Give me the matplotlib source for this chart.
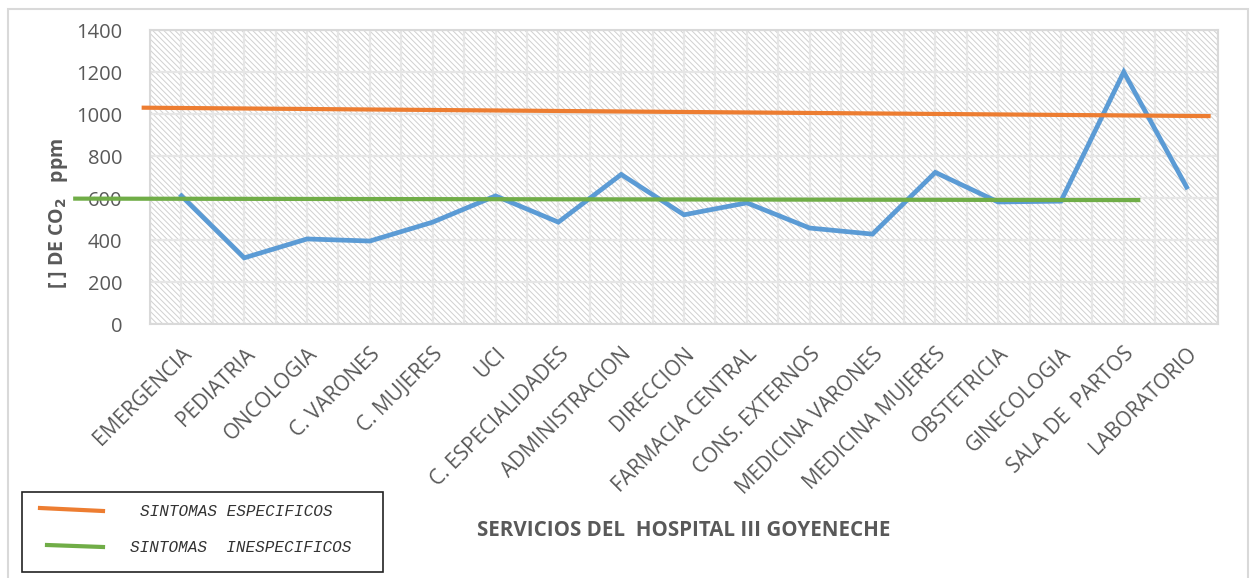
import matplotlib
matplotlib.use("Agg")
import matplotlib.pyplot as plt
from matplotlib.patches import Rectangle
from matplotlib.lines import Line2D
import numpy as np

categories = ["EMERGENCIA", "PEDIATRIA", "ONCOLOGIA", "C. VARONES", "C. MUJERES", "UCI",
              "C. ESPECIALIDADES", "ADMINISTRACION", "DIRECCION", "FARMACIA CENTRAL",
              "CONS. EXTERNOS", "MEDICINA VARONES", "MEDICINA MUJERES", "OBSTETRICIA",
              "GINECOLOGIA", "SALA DE  PARTOS", "LABORATORIO"]
co2_ppm = [610, 315, 405, 395, 485, 610, 485, 712, 520, 577, 457, 428, 722, 581, 585, 1200, 652]
especificos = [1030, 990]      # start / end level of reference line
inespecificos = [597, 590]     # start / end level of reference line
legend_labels = ["SINTOMAS ESPECIFICOS", "SINTOMAS  INESPECIFICOS"]
yticks = [0, 200, 400, 600, 800, 1000, 1200, 1400]

GRAY_TXT = "#595959"
BLUE = "#5b9bd5"
ORANGE = "#ed7d31"
GREEN = "#70ad47"

plt.rcParams['hatch.linewidth'] = 0.7
plt.rcParams['hatch.color'] = "#d0d0d0"

fig = plt.figure(figsize=(12.53, 5.78), dpi=100)
W, H = 1253, 578
ax = fig.add_axes([150 / W, 1 - 324 / H, (1218 - 150) / W, (324 - 30) / H])

# hatched plot background
bg = Rectangle((0, 0), 1, 1, transform=ax.transAxes, facecolor="white",
               edgecolor="#d0d0d0", hatch="\\\\\\\\\\\\", linewidth=0, zorder=0)
ax.add_patch(bg)

n = len(categories)
x = np.arange(n)
ax.set_xlim(-0.5, n - 0.5)
ax.set_ylim(0, 1400)

# grid
for yv in yticks:
    ax.axhline(yv, color="#e6e6e6", lw=1.6, zorder=1)
for xv in np.arange(-0.5, n, 0.5):
    ax.axvline(xv, color="#e6e6e6", lw=1.6, zorder=1)

ax.plot(x, co2_ppm, color=BLUE, lw=3.4, zorder=3, solid_joinstyle="miter")
ax.plot([-0.6, 16.35], especificos, color=ORANGE, lw=3.0, zorder=4, clip_on=False)
ax.plot([-1.69, 15.23], inespecificos, color=GREEN, lw=3.0, zorder=4, clip_on=False)

for s in ax.spines.values():
    s.set_color("#d9d9d9")
    s.set_linewidth(1.5)

ax.set_yticks(yticks)
ax.set_yticklabels([str(v) for v in yticks], fontfamily="Open Sans", fontsize=14.5, color=GRAY_TXT)
ax.set_xticks(x)
ax.set_xticklabels(categories, rotation=45, ha="right", va="top", rotation_mode="anchor",
                   fontfamily="Open Sans", fontsize=15, color=GRAY_TXT)
ax.tick_params(axis="both", length=0)
ax.tick_params(axis="y", pad=20)
ax.tick_params(axis="x", pad=14)

fig.text(58 / W, 1 - 213 / H, r"[ ] DE CO$_\mathbf{2}$   ppm", rotation=90, ha="center", va="center",
         fontfamily="Open Sans", fontweight="bold", fontsize=14, color=GRAY_TXT)
fig.text(684 / W, 1 - 530 / H, "SERVICIOS DEL  HOSPITAL III GOYENECHE", ha="center", va="center",
         fontfamily="Open Sans", fontweight="bold", fontsize=14.8, color=GRAY_TXT)

# outer chart border
fig.patches.append(Rectangle((8 / W, -0.05), (1248 - 8) / W, 1 - 9 / H + 0.05,
                             transform=fig.transFigure, fill=False, edgecolor="#d9d9d9", lw=1.5))

# legend box
fig.patches.append(Rectangle((22 / W, 1 - 572 / H), (383 - 22) / W, (572 - 492) / H,
                             transform=fig.transFigure, facecolor="white", edgecolor="#222222", lw=1.2))
fig.lines.append(Line2D([40 / W, 103 / W], [1 - 508 / H, 1 - 511 / H], transform=fig.transFigure,
                        color=ORANGE, lw=3))
fig.lines.append(Line2D([47 / W, 103 / W], [1 - 545 / H, 1 - 547 / H], transform=fig.transFigure,
                        color=GREEN, lw=3))
fig.text(140 / W, 1 - 512 / H, legend_labels[0], ha="left", va="center",
         fontfamily="Liberation Mono", fontstyle="italic", fontsize=11.5, color="#333333")
fig.text(130 / W, 1 - 548 / H, legend_labels[1], ha="left", va="center",
         fontfamily="Liberation Mono", fontstyle="italic", fontsize=11.5, color="#333333")

fig.savefig("out.png", dpi=100, facecolor="white")
